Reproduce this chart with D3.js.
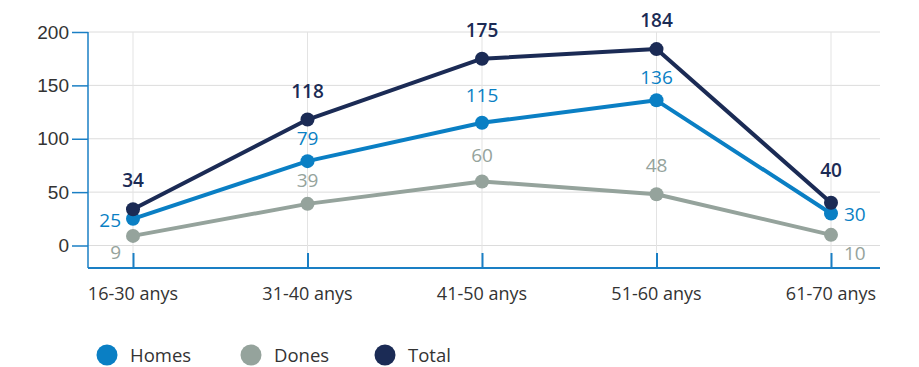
<!DOCTYPE html>
<html><head><meta charset="utf-8">
<script src="https://cdn.jsdelivr.net/npm/d3@7"></script>
<style>body{margin:0;background:#fff;} svg{display:block;font-family:"Open Sans",sans-serif;}</style>
</head><body><svg id="c" width="919" height="367"></svg>
<script>
const categories = ["16-30 anys","31-40 anys","41-50 anys","51-60 anys","61-70 anys"];
const homes = [25,79,115,136,30];
const dones = [9,39,60,48,10];
const total = [34,118,175,184,40];
const yTicks = [0,50,100,150,200];
const seriesNames = ["Homes","Dones","Total"];
const colors = {Homes:"#0a7fc4",Dones:"#95a39c",Total:"#1b2b55"};

const svg = d3.select("#c");
const x = d3.scalePoint().domain(categories).range([133,831]);
const y = d3.scaleLinear().domain([0,200]).range([245.5,32]);
const axisColor = "#1a7fc4";

// grid
svg.append("g").selectAll("line").data(yTicks).join("line")
  .attr("x1",88).attr("x2",880).attr("y1",d=>y(d)).attr("y2",d=>y(d))
  .attr("stroke","#dcdcdc").attr("stroke-width",1);
svg.append("g").selectAll("line").data(categories).join("line")
  .attr("x1",d=>x(d)).attr("x2",d=>x(d)).attr("y1",32).attr("y2",268)
  .attr("stroke","#e3e3e3").attr("stroke-width",1);

// y axis
const ya = svg.append("g").attr("transform","translate(88,0)")
  .call(d3.axisLeft(y).tickValues(yTicks).tickSize(16).tickPadding(3));
ya.select(".domain").remove();
svg.append("line").attr("x1",88).attr("x2",88).attr("y1",32).attr("y2",268).attr("stroke",axisColor).attr("stroke-width",1.5);
ya.selectAll(".tick line").attr("stroke",axisColor).attr("stroke-width",1.5);
ya.selectAll(".tick text").attr("fill","#333").attr("font-size",19);

// x axis
const xa = svg.append("g").attr("transform","translate(0,268)")
  .call(d3.axisTop(x).tickSize(15).tickFormat(()=>""));
xa.select(".domain").remove();
xa.selectAll(".tick line").attr("stroke",axisColor).attr("stroke-width",2);
svg.append("line").attr("x1",88).attr("x2",880).attr("y1",268).attr("y2",268).attr("stroke",axisColor).attr("stroke-width",2);
svg.append("g").selectAll("text").data(categories).join("text")
  .attr("x",d=>x(d)).attr("y",300).attr("text-anchor","middle")
  .attr("font-size",18).attr("fill","#333").text(d=>d);

const data = {Homes:homes,Dones:dones,Total:total};
const line = d3.line().x((d,i)=>x(categories[i])).y(d=>y(d));
["Dones","Homes","Total"].forEach(s=>{
  const g = svg.append("g");
  g.append("path").datum(data[s]).attr("d",line).attr("fill","none")
    .attr("stroke",colors[s]).attr("stroke-width",4).attr("stroke-linejoin","round");
  g.selectAll("circle").data(data[s]).join("circle")
    .attr("cx",(d,i)=>x(categories[i])).attr("cy",d=>y(d)).attr("r",7).attr("fill",colors[s]);
});

// labels: offsets [dx,dy,anchor]
const labelPos = {
  Total:[[0,-22,"middle"],[0,-22,"middle"],[0,-22,"middle"],[0,-22,"middle"],[0,-26,"middle"]],
  Homes:[[-12,8,"end"],[0,-16,"middle"],[0,-21,"middle"],[0,-16,"middle"],[13,8,"start"]],
  Dones:[[-12,23,"end"],[0,-17,"middle"],[0,-19,"middle"],[0,-22,"middle"],[13,25,"start"]]
};
["Dones","Homes","Total"].forEach(s=>{
  svg.append("g").selectAll("text").data(data[s]).join("text")
    .attr("x",(d,i)=>x(categories[i])+labelPos[s][i][0])
    .attr("y",(d,i)=>y(d)+labelPos[s][i][1])
    .attr("text-anchor",(d,i)=>labelPos[s][i][2])
    .attr("font-size",19).attr("font-weight",s==="Total"?600:400)
    .attr("fill",colors[s]).text(d=>d);
});

// legend
const lx = [107,251,385];
const lg = svg.append("g").selectAll("g").data(seriesNames).join("g")
  .attr("transform",(d,i)=>`translate(${lx[i]},355)`);
lg.append("circle").attr("r",10.5).attr("fill",d=>colors[d]);
lg.append("text").attr("x",23).attr("y",6.5).attr("font-size",18.5).attr("fill","#333").text(d=>d);
</script></body></html>
